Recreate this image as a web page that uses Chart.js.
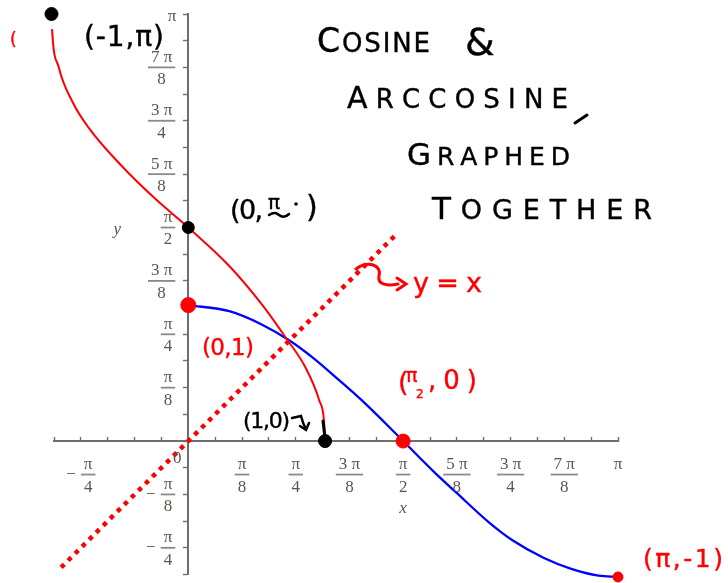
<!DOCTYPE html>
<html>
<head>
<meta charset="utf-8">
<script src="https://cdn.jsdelivr.net/npm/chart.js@4"></script>
<style>
  html, body { margin: 0; padding: 0; background: #ffffff; }
  #wrap { width: 728px; height: 583px; }
</style>
</head>
<body>
<div id="wrap"><canvas id="trig"></canvas></div>
<script>
const PI = Math.PI;

// y = arccos(x), sampled along the red curve
const arccosX = [-1, -0.996, -0.947, -0.849, -0.725, -0.483, -0.239, 0, 0.298, 0.542, 0.713, 0.859, 0.957, 0.993, 1];
const arccosY = [PI, 3.03, 2.75, 2.5, 2.3, 2.02, 1.78, PI / 2, 1.29, 1.0, 0.76, 0.537, 0.3, 0.14, 0];

// y = cos(x) on [0, pi], the blue curve
const cosX = [0, 0.3, 0.54, 0.74, 0.91, 1.1, 1.3, PI / 2, 1.8, 1.96, 2.2, 2.37, 2.6, 2.8, 3.0, PI];
const cosY = [1, 0.955, 0.856, 0.74, 0.614, 0.45, 0.27, 0, -0.23, -0.38, -0.6, -0.73, -0.86, -0.94, -0.99, -1];

// the mirror line y = x
const diagX = [-0.93, 1.51];
const diagY = [-0.93, 1.51];

// marked points
const blackPtX = [-1, 0, 1];
const blackPtY = [PI, PI / 2, 0];
const redPtX = [0, PI / 2, PI];
const redPtY = [1, 0, -1];

// axis labels (fractions of pi)
const xLabelVals = [-PI / 4, PI / 8, PI / 4, 3 * PI / 8, PI / 2, 5 * PI / 8, 3 * PI / 4, 7 * PI / 8];
const xLabelNums = ["π", "π", "π", "3 π", "π", "5 π", "3 π", "7 π"];
const xLabelDens = ["4", "8", "4", "8", "2", "8", "4", "8"];
const yLabelVals = [-PI / 4, -PI / 8, PI / 8, PI / 4, 3 * PI / 8, PI / 2, 5 * PI / 8, 3 * PI / 4, 7 * PI / 8];
const yLabelNums = ["π", "π", "π", "π", "3 π", "π", "5 π", "3 π", "7 π"];
const yLabelDens = ["4", "8", "8", "4", "8", "2", "8", "4", "8"];

// minor ticks every pi/16
const tickValues = Array.from({ length: 22 }, (_, i) => (i - 5) * PI / 16);

const AXIS = "#6e6e6e";
const LABEL = "#5d554c";
const RED = "#ff0000";
const BLUE = "#0000ff";
const INK = "#000000";
const SERIF = '"Liberation Serif", "DejaVu Serif", serif';
const HAND = '"DejaVu Sans", sans-serif';

const toPts = (xs, ys) => xs.map((x, i) => ({ x: x, y: ys[i] }));

// a stacked fraction centred on cx with its bar at cy
function fraction(ctx, cx, cy, num, den) {
	ctx.font = "17px " + SERIF;
	const w = Math.max(ctx.measureText(num).width, ctx.measureText(den).width) + 6;
	ctx.fillStyle = LABEL;
	ctx.textAlign = "center";
	ctx.textBaseline = "middle";
	ctx.fillText(num, cx, cy - 10);
	ctx.fillText(den, cx, cy + 12.5);
	ctx.fillStyle = "#8a8a8a";
	ctx.fillRect(cx - w / 2, cy - 0.9, w, 1.8);
	return w;
}

// marker-pen lettering, letters spread evenly between x0 and x1
function hand(ctx, text, x0, x1, base, size, color, firstSize) {
	const chars = [...text];
	const sizes = chars.map((c, i) => (i === 0 && firstSize ? firstSize : size));
	const widths = chars.map((c, i) => {
		ctx.font = sizes[i] + "px " + HAND;
		return ctx.measureText(c).width;
	});
	const total = widths.reduce((a, b) => a + b, 0);
	const gap = chars.length > 1 ? (x1 - x0 - total) / (chars.length - 1) : 0;
	ctx.fillStyle = color;
	ctx.strokeStyle = color;
	ctx.lineWidth = 0.4;
	ctx.textAlign = "left";
	ctx.textBaseline = "alphabetic";
	let x = x0;
	chars.forEach((c, i) => {
		ctx.font = sizes[i] + "px " + HAND;
		ctx.fillText(c, x, base);
		ctx.strokeText(c, x, base);
		x += widths[i] + gap;
	});
}

const axisLabels = {
	id: "axisLabels",
	afterDraw(chart) {
		const ctx = chart.ctx;
		const sx = chart.scales.x;
		const sy = chart.scales.y;
		const x0 = sx.getPixelForValue(0);
		const y0 = sy.getPixelForValue(0);
		ctx.save();
		// x axis fractions
		xLabelVals.forEach((v, i) => {
			const px = sx.getPixelForValue(v);
			if (v < 0) {
				ctx.font = "17px " + SERIF;
				const mw = ctx.measureText("−").width;
				const fw = Math.max(ctx.measureText(xLabelNums[i]).width, ctx.measureText(xLabelDens[i]).width) + 6;
				const left = px - (mw + 5 + fw) / 2;
				fraction(ctx, left + mw + 5 + fw / 2, y0 + 33.5, xLabelNums[i], xLabelDens[i]);
				ctx.fillStyle = LABEL;
				ctx.textAlign = "left";
				ctx.fillText("−", left, y0 + 33.5);
			} else {
				fraction(ctx, px, y0 + 33.5, xLabelNums[i], xLabelDens[i]);
			}
		});
		ctx.font = "17px " + SERIF;
		ctx.fillStyle = LABEL;
		ctx.textAlign = "center";
		ctx.textBaseline = "middle";
		ctx.fillText("π", sx.getPixelForValue(PI), y0 + 23.5);
		// y axis fractions, right aligned next to the ticks
		yLabelVals.forEach((v, i) => {
			const py = sy.getPixelForValue(v);
			ctx.font = "17px " + SERIF;
			const fw = Math.max(ctx.measureText(yLabelNums[i]).width, ctx.measureText(yLabelDens[i]).width) + 6;
			const cx = x0 - 13 - fw / 2;
			fraction(ctx, cx, py, yLabelNums[i], yLabelDens[i]);
			if (v < 0) {
				ctx.fillStyle = LABEL;
				ctx.textAlign = "right";
				ctx.fillText("−", cx - fw / 2 - 5, py);
			}
		});
		ctx.fillStyle = LABEL;
		ctx.textAlign = "right";
		ctx.fillText("π", x0 - 12, sy.getPixelForValue(PI) + 3);
		ctx.textAlign = "center";
		ctx.fillText("0", x0 - 11, y0 + 17);
		ctx.font = "italic 17px " + SERIF;
		ctx.fillText("x", sx.getPixelForValue(PI / 2), y0 + 67);
		ctx.fillText("y", x0 - 71, sy.getPixelForValue(PI / 2) + 2);
		ctx.restore();
	},
};

const notes = {
	id: "notes",
	afterDraw(chart) {
		const ctx = chart.ctx;
		ctx.save();
		// heading
		hand(ctx, "COSINE", 317, 430, 52, 26, INK, 33);
		hand(ctx, "&", 465, 465, 55, 38, INK);
		hand(ctx, "ARCCOSINE", 347, 568, 108, 26, INK, 30);
		hand(ctx, "GRAPHED", 407, 570, 165, 25, INK, 31);
		hand(ctx, "TOGETHER", 432, 652, 219, 27, INK, 31);
		ctx.strokeStyle = INK;
		ctx.lineWidth = 3;
		ctx.lineCap = "round";
		ctx.beginPath();
		ctx.moveTo(575, 123);
		ctx.lineTo(587, 115);
		ctx.stroke();

		// point labels
		hand(ctx, "(-1,π)", 84, 164, 46, 28, INK);
		hand(ctx, "(0,", 230, 263, 219, 27, INK);
		hand(ctx, "π", 268, 268, 209, 20, INK);
		ctx.lineWidth = 2.5;
		ctx.beginPath();
		ctx.moveTo(269, 215);
		ctx.quadraticCurveTo(275, 211, 279, 215);
		ctx.quadraticCurveTo(284, 219, 289, 214);
		ctx.stroke();
		ctx.fillStyle = INK;
		ctx.beginPath();
		ctx.arc(296, 204, 1.8, 0, 2 * PI);
		ctx.fill();
		hand(ctx, ")", 306, 306, 217, 30, INK);

		hand(ctx, "(0,1)", 202, 254, 355, 23, RED);

		hand(ctx, "(", 398, 398, 391, 27, RED);
		hand(ctx, "π", 406, 406, 382, 19, RED);
		hand(ctx, "2", 416, 416, 398, 12, RED);
		hand(ctx, ",0)", 428, 477, 389, 26, RED);

		hand(ctx, "(1,0)", 243, 290, 428, 22, INK);
		ctx.strokeStyle = INK;
		ctx.lineWidth = 2.5;
		ctx.beginPath();
		ctx.moveTo(292, 418);
		ctx.lineTo(301, 416);
		ctx.quadraticCurveTo(303, 424, 306, 429);
		ctx.stroke();
		ctx.beginPath();
		ctx.moveTo(300, 426);
		ctx.lineTo(306, 430);
		ctx.lineTo(309, 423);
		ctx.stroke();
		ctx.lineWidth = 3;
		ctx.beginPath();
		ctx.moveTo(323, 421);
		ctx.lineTo(325, 438);
		ctx.stroke();

		hand(ctx, "y = x", 413, 482, 292, 27, RED);
		ctx.strokeStyle = RED;
		ctx.lineWidth = 3;
		ctx.beginPath();
		ctx.moveTo(356, 269);
		ctx.bezierCurveTo(368, 260, 382, 265, 379, 276);
		ctx.bezierCurveTo(377, 285, 388, 286, 398, 284);
		ctx.stroke();
		ctx.beginPath();
		ctx.moveTo(397, 278);
		ctx.lineTo(406, 284);
		ctx.lineTo(397, 290);
		ctx.stroke();

		hand(ctx, "(π,-1)", 643, 723, 567, 25, RED);
		hand(ctx, "(", 10, 10, 45, 17, RED);
		ctx.restore();
	},
};

new Chart(document.getElementById("trig"), {
	type: "scatter",
	data: {
		datasets: [
			{
				label: "marked (black)",
				data: toPts(blackPtX, blackPtY),
				backgroundColor: INK,
				borderColor: INK,
				pointRadius: [6.5, 6, 6.5],
				clip: false,
				order: 0,
			},
			{
				label: "marked (red)",
				data: toPts(redPtX, redPtY),
				backgroundColor: RED,
				borderColor: RED,
				pointRadius: [7.5, 7, 5],
				clip: false,
				order: 0,
			},
			{
				label: "y = x",
				data: toPts(diagX, diagY),
				showLine: true,
				borderColor: RED,
				borderWidth: 4.5,
				borderDash: [4.5, 5.4],
				borderCapStyle: "butt",
				pointRadius: 0,
				order: 1,
			},
			{
				label: "arccos",
				data: toPts(arccosX, arccosY),
				showLine: true,
				borderColor: RED,
				borderWidth: 2,
				cubicInterpolationMode: "monotone",
				pointRadius: 0,
				clip: false,
				order: 2,
			},
			{
				label: "cos",
				data: toPts(cosX, cosY),
				showLine: true,
				borderColor: BLUE,
				borderWidth: 2.3,
				cubicInterpolationMode: "monotone",
				pointRadius: 0,
				clip: false,
				order: 2,
			},
		],
	},
	options: {
		responsive: true,
		maintainAspectRatio: false,
		animation: false,
		layout: { padding: { left: 54, top: 14, right: 110, bottom: 5.5 } },
		plugins: { legend: { display: false }, tooltip: { enabled: false } },
		scales: {
			x: {
				type: "linear",
				min: -5 * PI / 16,
				max: PI,
				position: { y: 0 },
				afterBuildTicks: (s) => { s.ticks = tickValues.map((v) => ({ value: v })); },
				ticks: { display: false },
				grid: { drawOnChartArea: false, drawTicks: true, tickLength: -5, tickWidth: 1.4, tickColor: AXIS },
				border: { color: AXIS, width: 2 },
			},
			y: {
				type: "linear",
				min: -5 * PI / 16,
				max: PI,
				position: { x: 0 },
				afterBuildTicks: (s) => { s.ticks = tickValues.map((v) => ({ value: v })); },
				ticks: { display: false },
				grid: { drawOnChartArea: false, drawTicks: true, tickLength: 4, tickWidth: 1.4, tickColor: AXIS },
				border: { color: AXIS, width: 2 },
			},
		},
	},
	plugins: [axisLabels, notes],
});
</script>
</body>
</html>
